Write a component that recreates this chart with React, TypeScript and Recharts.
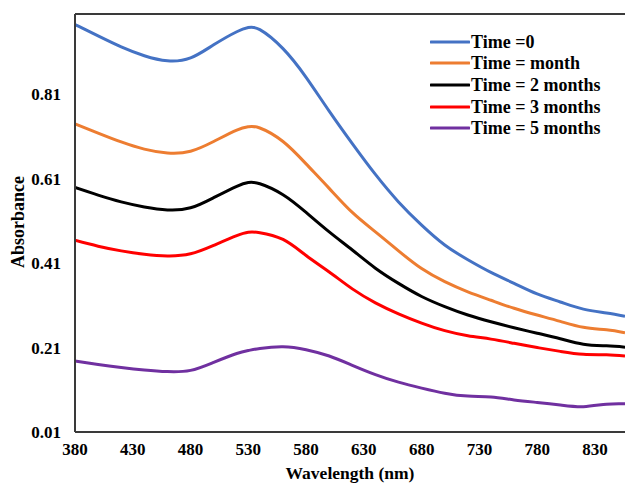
import { LineChart, Line, XAxis, YAxis, ReferenceLine } from 'recharts';

const wavelengths = [
  380, 400, 420, 440, 460, 480, 500, 520, 530, 540, 560, 580, 600, 620, 640, 660, 680, 700, 720,
  740, 760, 780, 800, 820, 840, 856,
];

const time0 = [
  0.975, 0.948, 0.922, 0.901, 0.889, 0.896, 0.927, 0.958, 0.968, 0.963, 0.918, 0.85, 0.77, 0.693,
  0.62, 0.555, 0.5, 0.453, 0.418, 0.388, 0.362, 0.337, 0.318, 0.301, 0.292, 0.284,
];
const time1 = [
  0.74, 0.718, 0.697, 0.68, 0.671, 0.675, 0.698, 0.725, 0.733, 0.73, 0.698, 0.645, 0.587, 0.53,
  0.484, 0.439, 0.397, 0.366, 0.342, 0.322, 0.303, 0.287, 0.272, 0.258, 0.252, 0.245,
];
const time2 = [
  0.589, 0.571, 0.555, 0.543, 0.536, 0.541, 0.565, 0.592, 0.601, 0.598, 0.572, 0.53, 0.484, 0.441,
  0.398, 0.362, 0.331, 0.307, 0.287, 0.271, 0.257, 0.244, 0.231, 0.218, 0.214, 0.211,
];
const time3 = [
  0.464, 0.45, 0.439, 0.431, 0.427, 0.432, 0.452, 0.475, 0.483, 0.482, 0.466, 0.428, 0.389, 0.349,
  0.316, 0.29, 0.268, 0.25, 0.238, 0.23, 0.22, 0.21, 0.201, 0.194, 0.193, 0.19,
];
const time5 = [
  0.178, 0.17, 0.163, 0.157, 0.153, 0.156, 0.175, 0.196, 0.203, 0.208, 0.212, 0.205, 0.19, 0.168,
  0.146, 0.128, 0.114, 0.102, 0.095, 0.093, 0.086, 0.08, 0.074, 0.07, 0.076, 0.077,
];

const xTicks = [380, 430, 480, 530, 580, 630, 680, 730, 780, 830];
const yTicks = [0.01, 0.21, 0.41, 0.61, 0.81];

const SERIES = [
  { key: 't0', name: 'Time =0', color: '#4472c4', values: time0 },
  { key: 't1', name: 'Time = month', color: '#ed7d31', values: time1 },
  { key: 't2', name: 'Time = 2 months', color: '#000000', values: time2 },
  { key: 't3', name: 'Time = 3 months', color: '#ff0000', values: time3 },
  { key: 't5', name: 'Time = 5 months', color: '#7030a0', values: time5 },
];

const data = wavelengths.map((w, i) => {
  const row: Record<string, number> = { wl: w };
  SERIES.forEach((s) => {
    row[s.key] = s.values[i];
  });
  return row;
});

const FONT = '"Liberation Serif", "Times New Roman", serif';
const AXIS_COLOR = '#3a3a3a';

// legend drawn as a plain overlay so it doesn't eat into the plot margins
function LegendBox() {
  return (
    <div
      style={{
        position: 'absolute',
        left: 430,
        top: 31,
        fontFamily: FONT,
        fontWeight: 'bold',
        fontSize: 18,
        color: '#000',
      }}
    >
      {SERIES.map((s) => (
        <div key={s.key} style={{ display: 'flex', alignItems: 'center', height: 21.65 }}>
          <svg width={40} height={6}>
            <line x1={1} y1={3} x2={39} y2={3} stroke={s.color} strokeWidth={3} strokeLinecap="round" />
          </svg>
          <span style={{ marginLeft: 1, lineHeight: '18px', whiteSpace: 'nowrap' }}>{s.name}</span>
        </div>
      ))}
    </div>
  );
}

export default function App() {
  return (
    <div style={{ position: 'absolute', left: 0, top: 0, width: 625, height: 483, background: '#fff' }}>
      <LineChart width={625} height={483} data={data} margin={{ top: 14, right: 0, left: 0, bottom: 0 }}>
        <XAxis
          dataKey="wl"
          type="number"
          domain={[380, 856]}
          ticks={xTicks}
          allowDataOverflow
          height={51}
          tickLine={false}
          tickMargin={5}
          axisLine={{ stroke: AXIS_COLOR, strokeWidth: 2 }}
          tick={{ fill: '#000', fontFamily: FONT, fontWeight: 'bold', fontSize: 17 }}
          label={{
            content: () => (
              <text x={350} y={479} textAnchor="middle" fontFamily={FONT} fontWeight="bold" fontSize={17.5} fill="#000">
                Wavelength (nm)
              </text>
            ),
          }}
        />
        <YAxis
          type="number"
          domain={[0.01, 1.0]}
          ticks={yTicks}
          allowDataOverflow
          width={75}
          tickLine={false}
          tickMargin={8}
          tickFormatter={(v: number) => v.toFixed(2)}
          axisLine={{ stroke: AXIS_COLOR, strokeWidth: 2 }}
          tick={{ fill: '#000', fontFamily: FONT, fontWeight: 'bold', fontSize: 17 }}
          label={{
            content: () => (
              <text
                x={24}
                y={222}
                transform="rotate(-90 24 222)"
                textAnchor="middle"
                fontFamily={FONT}
                fontWeight="bold"
                fontSize={18}
                fill="#000"
              >
                Absorbance
              </text>
            ),
          }}
        />
        <ReferenceLine y={1.0} stroke={AXIS_COLOR} strokeWidth={2} />
        {SERIES.map((s) => (
          <Line
            key={s.key}
            dataKey={s.key}
            name={s.name}
            type="natural"
            stroke={s.color}
            strokeWidth={3}
            dot={false}
            isAnimationActive={false}
          />
        ))}
      </LineChart>
      <LegendBox />
    </div>
  );
}
